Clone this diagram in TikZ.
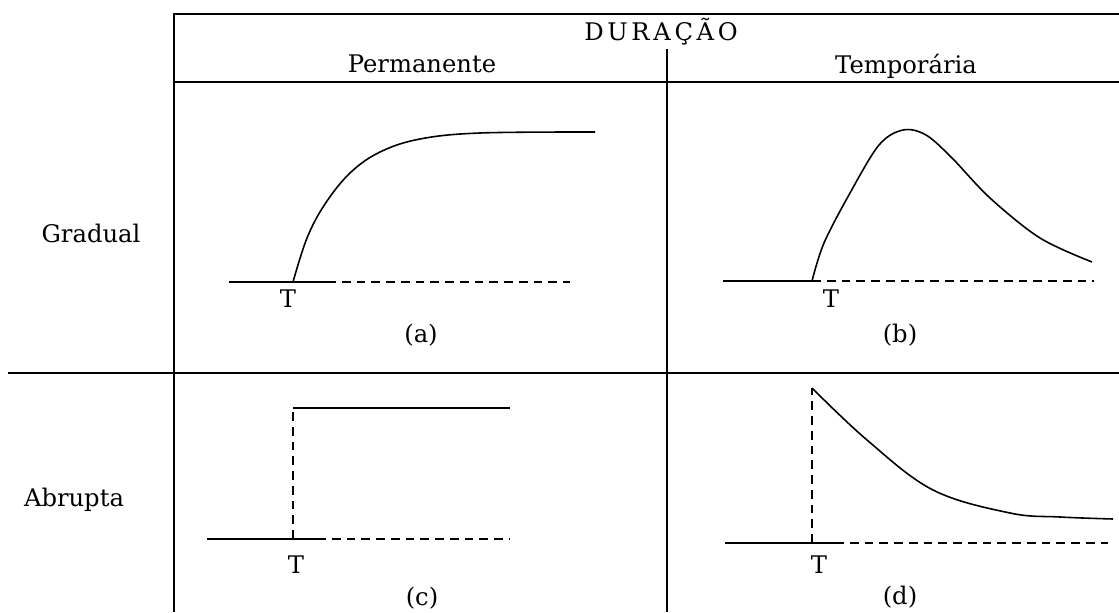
\documentclass[tikz,border=0pt]{standalone}
\usepackage{fontspec}
\setmainfont{DejaVu Serif}
\newfontfamily\spacedfont{DejaVu Serif}[LetterSpace=15]

\begin{document}
\begin{tikzpicture}[x=0.02cm, y=-0.02cm, font=\fontsize{13.8}{16}\selectfont,
  rule/.style={line width=1.1pt},
  signal/.style={line width=0.9pt},
  ref/.style={line width=0.9pt, dash pattern=on 5pt off 3.4pt},
  lbl/.style={inner sep=0pt, anchor=base}]
\useasboundingbox (0,0) rectangle (1119,612);
% table rules
\draw[rule] (1119,14) -| (174,612);
\draw[rule] (174,82) -- (1119,82);
\draw[rule] (667,49) -- (667,612);
\draw[rule] (8,373) -- (1119,373);
% headers
\node[lbl] (dur) at (661,40) {\spacedfont DURAÇÃO};
\node[lbl] (perm) at (422,72) {Permanente};
\node[lbl] (temp) at (906,73) {Temporária};
\node[lbl] (grad) at (91,242) {Gradual};
\node[lbl] (abr) at (74,506) {Abrupta};
% (a) gradual, permanent
\coordinate (ta) at (293,282);
\draw[signal] (229,282) -- (327,282);
\draw[ref] (327,282) -- (570,282);
\draw[signal] plot[smooth, tension=0.6] coordinates {(ta) (307,238) (325,204) (350,173) (380,152) (420,139) (480,133) (595,132)};
\node[lbl] (Ta) at (288,307) {T};
\node (capa) at (421,335) {(a)};
% (b) gradual, temporary
\coordinate (tb) at (812,281);
\draw[signal] (723,281) -- (tb);
\draw[ref] (tb) -- (1094,281);
\draw[signal] plot[smooth, tension=0.55] coordinates {(tb) (824,243) (850,193) (879,145) (903,130) (926,135) (952,158) (990,198) (1040,238) (1092,262)};
\node[lbl] (Tb) at (831,307) {T};
\node (capb) at (900,335) {(b)};
% (c) abrupt, permanent
\coordinate (tc) at (293,539);
\coordinate (jc) at (293,408);
\draw[signal] (207,539) -- (317,539);
\draw[ref] (317,539) -- (510,539);
\draw[ref] (tc) -- (jc);
\draw[signal] (jc) -- (510,408);
\node[lbl] (Tc) at (296,573) {T};
\node (capc) at (422,598) {(c)};
% (d) abrupt, temporary
\coordinate (td) at (812,543);
\coordinate (jd) at (812,388);
\draw[signal] (725,543) -- (835,543);
\draw[ref] (835,543) -- (1108,543);
\draw[ref] (td) -- (jd);
\draw[signal] plot[smooth, tension=0.6] coordinates {(jd) (867,440) (933,490) (1010,513) (1060,517) (1113,519)};
\node[lbl] (Td) at (819,573) {T};
\node (capd) at (900,597) {(d)};
\end{tikzpicture}
\end{document}
